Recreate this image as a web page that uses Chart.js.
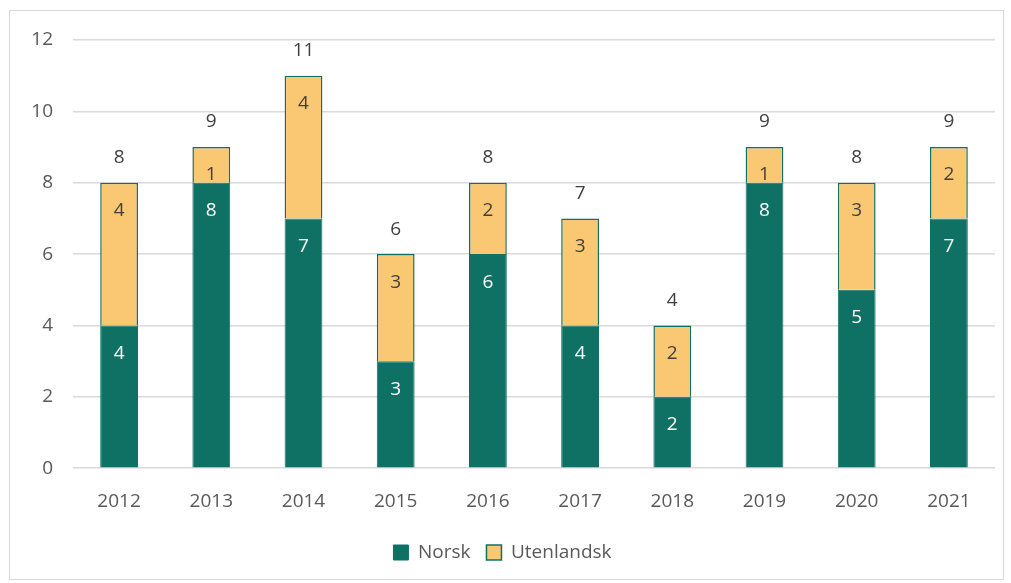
<!DOCTYPE html>
<html>
<head>
<meta charset="utf-8">
<script src="https://cdn.jsdelivr.net/npm/chart.js@4.4.1/dist/chart.umd.min.js"></script>
<style>
  html, body { margin: 0; padding: 0; background: #fff; }
  #wrap {
    position: absolute; left: 9px; top: 10px;
    width: 995px; height: 570px;
    border: 1px solid #d9d9d9; box-sizing: border-box;
  }
  canvas { display: block; }
</style>
</head>
<body>
<div id="wrap"><canvas id="chart"></canvas></div>
<script>
// data
const years = ['2012', '2013', '2014', '2015', '2016', '2017', '2018', '2019', '2020', '2021']
const norsk = [4, 8, 7, 3, 6, 4, 2, 8, 5, 7]
const utenlandsk = [4, 1, 4, 3, 2, 3, 2, 1, 3, 2]

const teal = '#0f7064'
const orange = '#fac772'
const textDark = '#404040'
const fontFam = '"Open Sans", "Liberation Sans", sans-serif'

// draws segment values (inside end) and the totals above each bar
const barLabels = {
    id: 'barLabels',
    afterDatasetsDraw(chart) {
        const ctx = chart.ctx
        ctx.save()
        ctx.font = '19px ' + fontFam
        ctx.textAlign = 'center'
        ctx.textBaseline = 'middle'
        chart.data.datasets.forEach(function (ds, di) {
            const meta = chart.getDatasetMeta(di)
            meta.data.forEach(function (bar, i) {
                ctx.fillStyle = di === 0 ? '#ffffff' : textDark
                ctx.fillText(String(ds.data[i]), bar.x, bar.y + 28)
            })
        })
        // totals
        const top = chart.getDatasetMeta(chart.data.datasets.length - 1)
        top.data.forEach(function (bar, i) {
            const total = norsk[i] + utenlandsk[i]
            ctx.fillStyle = textDark
            ctx.fillText(String(total), bar.x, bar.y - 25)
        })
        ctx.restore()
    }
}

new Chart(document.getElementById('chart'), {
    type: 'bar',
    data: {
        labels: years,
        datasets: [{
            label: 'Norsk',
            data: norsk,
            backgroundColor: teal,
            borderColor: teal,
            borderWidth: 1,
            barPercentage: 0.41,
            categoryPercentage: 1
        }, {
            label: 'Utenlandsk',
            data: utenlandsk,
            backgroundColor: orange,
            borderColor: teal,
            borderWidth: 1.5,
            barPercentage: 0.41,
            categoryPercentage: 1
        }]
    },
    options: {
        responsive: true,
        maintainAspectRatio: false,
        animation: false,
        layout: { padding: { left: 0, right: 8, top: 29, bottom: 7 } },
        plugins: {
            tooltip: { enabled: false },
            legend: {
                position: 'bottom',
                labels: {
                    boxWidth: 15,
                    boxHeight: 15,
                    padding: 16,
                    color: '#595959',
                    font: { family: fontFam, size: 19 }
                }
            }
        },
        scales: {
            x: {
                stacked: true,
                grid: { display: false },
                border: { display: false },
                ticks: {
                    color: '#595959',
                    padding: 14,
                    font: { family: fontFam, size: 19 }
                }
            },
            y: {
                stacked: true,
                min: 0,
                max: 12,
                afterFit: function (scale) {
                    scale.width = 63
                    scale.paddingTop = 0
                },
                grid: { color: '#d9d9d9', lineWidth: 1.5, drawTicks: false },
                border: { display: false },
                ticks: {
                    stepSize: 2,
                    color: '#595959',
                    padding: 20,
                    font: { family: fontFam, size: 19, lineHeight: 1 }
                }
            }
        }
    },
    plugins: [barLabels]
})
</script>
</body>
</html>
